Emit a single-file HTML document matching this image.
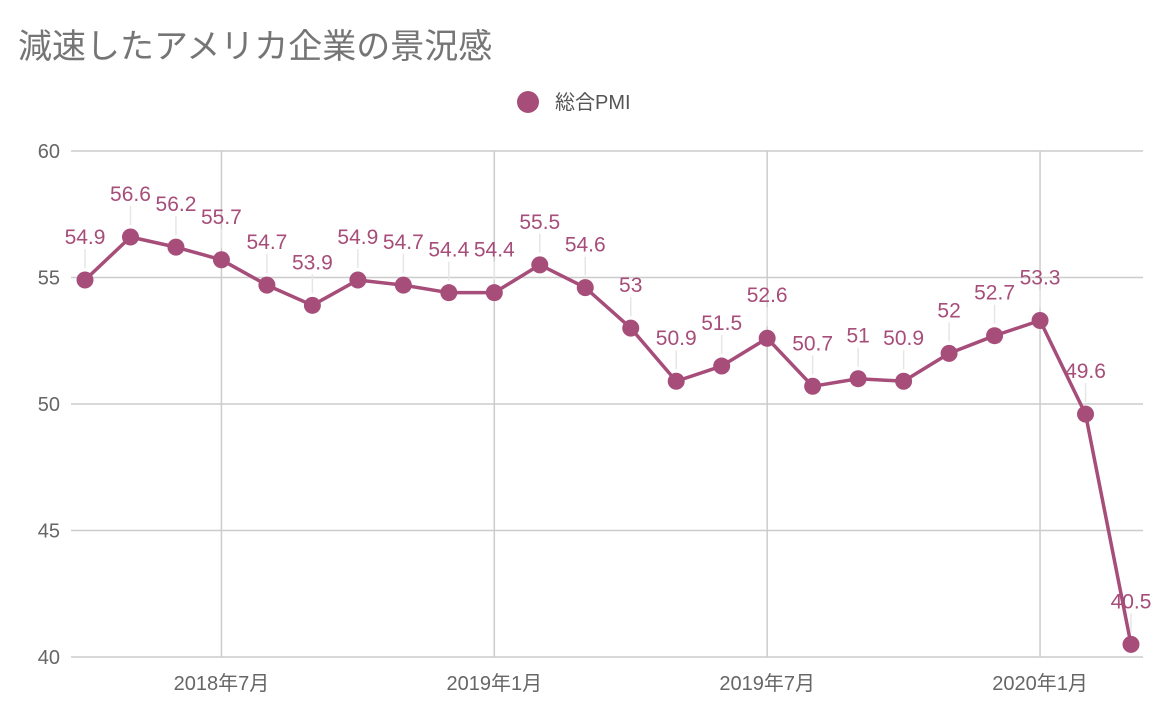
<!DOCTYPE html>
<html><head><meta charset="utf-8"><style>
body{margin:0;background:#fff;font-family:"Liberation Sans","Noto Sans CJK JP",sans-serif;}
svg text{font-family:"Liberation Sans","Noto Sans CJK JP",sans-serif;}
</style></head><body>
<svg id="chart" width="1172" height="708">
<text x="18" y="58" font-size="34" fill="#757575">減速したアメリカ企業の景況感</text>
<g>
<circle cx="528" cy="102" r="11" fill="#a64d79"></circle>
<text x="555" y="109" font-size="20" fill="#555">総合PMI</text>
</g>
<g id="grid"></g><g id="marks"></g>
</svg>
<script>
const categories=["2018-04","2018-05","2018-06","2018-07","2018-08","2018-09","2018-10","2018-11","2018-12","2019-01","2019-02","2019-03","2019-04","2019-05","2019-06","2019-07","2019-08","2019-09","2019-10","2019-11","2019-12","2020-01","2020-02","2020-03"];
const values=[54.9,56.6,56.2,55.7,54.7,53.9,54.9,54.7,54.4,54.4,55.5,54.6,53,50.9,51.5,52.6,50.7,51,50.9,52,52.7,53.3,49.6,40.5];
const yTicks=[40,45,50,55,60];
const xTickIdx=[3,9,15,21];
const xTickLabels=["2018年7月","2019年1月","2019年7月","2020年1月"];
const NS="http://www.w3.org/2000/svg";
const x=i=>85+i*(1131-85)/(categories.length-1);
const y=v=>657-(v-40)*(657-151)/20;
function mk(tag,attrs,parent){const e=document.createElementNS(NS,tag);for(const k in attrs)e.setAttribute(k,attrs[k]);parent.appendChild(e);return e;}
const grid=document.getElementById('grid'),marks=document.getElementById('marks');
yTicks.forEach(t=>{
 const l=mk('line',{x1:71,x2:1143,y1:y(t),y2:y(t),stroke:'#ccc','stroke-width':1.5},grid);
 
 
 const tx=mk('text',{x:60,y:y(t)+7,'text-anchor':'end','font-size':20,fill:'#666'},grid);
 tx.textContent=t;
 
 
});
xTickIdx.forEach((idx,k)=>{
 const l=mk('line',{x1:x(idx),x2:x(idx),y1:151,y2:657,stroke:'#ccc','stroke-width':1.5},grid);
 
 
 const tx=mk('text',{x:x(idx),y:690,'text-anchor':'middle','font-size':20,fill:'#666'},grid);
 tx.textContent=xTickLabels[k];
 
 
});
const pl=mk('polyline',{points:values.map((v,i)=>x(i)+','+y(v)).join(' '),fill:'none',stroke:'#a64d79','stroke-width':3.5,'stroke-linejoin':'round'},marks);


values.forEach((v,i)=>{
 const ld=mk('line',{x1:x(i),x2:x(i),y1:y(v)-12,y2:y(v)-31,stroke:'#e6e6e6','stroke-width':1.5},marks);
 
 
 const c=mk('circle',{cx:x(i),cy:y(v),r:8.5,fill:'#a64d79'},marks);
 
 
 const t=mk('text',{x:x(i),y:y(v)-36,'text-anchor':'middle','font-size':21,fill:'#a64d79'},marks);
 t.textContent=v;
 
 
});
</script>
</body></html>
